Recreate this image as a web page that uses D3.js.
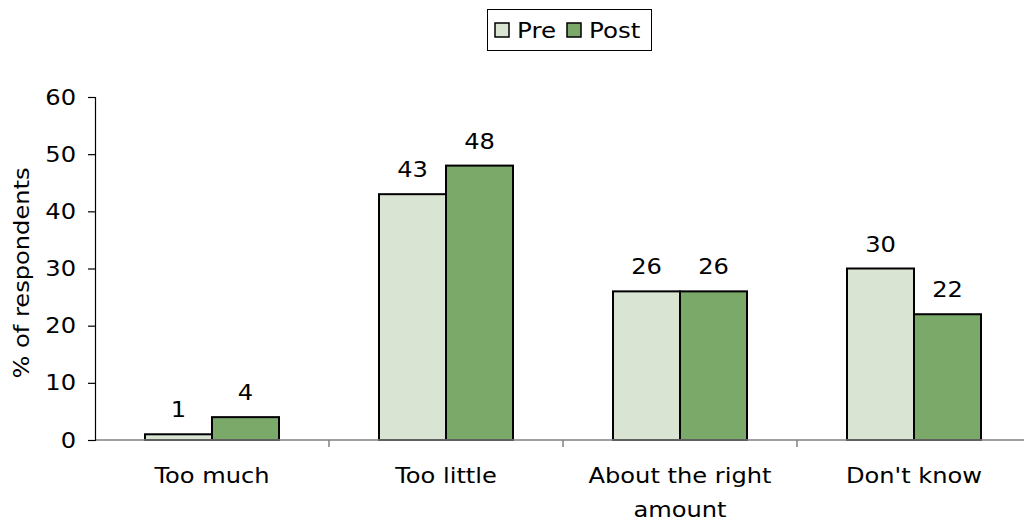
<!DOCTYPE html>
<html><head><meta charset="utf-8">
<script src="https://cdn.jsdelivr.net/npm/d3@7"></script>
<style>body{margin:0;background:#fff}svg{display:block}</style>
</head><body>
<script>
const categories = [["Too much"], ["Too little"], ["About the right", "amount"], ["Don't know"]];
const seriesNames = ["Pre", "Post"];
const preValues = [1, 43, 26, 30];
const postValues = [4, 48, 26, 22];
const yTicks = [0, 10, 20, 30, 40, 50, 60];
const colors = ["#d9e4d3", "#7aa96a"];

const W = 1024, H = 521;
const font = "DejaVu Sans, Verdana, sans-serif";
const SX = 1.15;
const svg = d3.select("body").append("svg").attr("width", W).attr("height", H);

function txt(parent, x, y, s, opts = {}) {
  const g = parent.append("g").attr("transform", `translate(${x},${y})${opts.rot ? " rotate(" + opts.rot + ")" : ""} scale(${opts.sx || SX},1)`);
  return g.append("text").attr("x", 0).attr("y", 0)
    .attr("text-anchor", opts.anchor || "middle")
    .attr("font-family", font).attr("font-size", opts.size || 21).attr("fill", "#000")
    .text(s);
}

const x = d3.scaleBand().domain(d3.range(categories.length)).range([95, 1031]).paddingInner(0).paddingOuter(0);
const inner = d3.scaleBand().domain([0, 1]).range([0, 134]);
const y = d3.scaleLinear().domain([0, 60]).range([440, 97]);

const series = [preValues, postValues];
const data = [];
series.forEach((vals, s) => vals.forEach((v, i) => data.push({s, i, v})));

// bars
svg.selectAll("rect.bar").data(data).enter().append("rect")
  .attr("x", d => x(d.i) + 50 + inner(d.s))
  .attr("y", d => y(d.v))
  .attr("width", inner.bandwidth())
  .attr("height", d => y(0) - y(d.v))
  .attr("fill", d => colors[d.s])
  .attr("stroke", "#000").attr("stroke-width", 2);

// value labels
data.forEach(d => txt(svg, x(d.i) + 50 + inner(d.s) + inner.bandwidth() / 2, y(d.v) - 17, d.v));

// x axis
svg.append("line").attr("x1", 95).attr("x2", W).attr("y1", 440).attr("y2", 440)
  .attr("stroke", "#808080").attr("stroke-width", 1.5);
d3.range(1, categories.length).forEach(i => {
  svg.append("line").attr("x1", x(i)).attr("x2", x(i)).attr("y1", 440).attr("y2", 447)
    .attr("stroke", "#808080").attr("stroke-width", 1.5);
});
categories.forEach((lines, i) => {
  lines.forEach((ln, k) => txt(svg, x(i) + x.bandwidth() / 2, 483 + k * 34, ln));
});

// y axis
const yAxis = d3.axisLeft(y).tickValues(yTicks).tickSize(7).tickFormat("");
const gy = svg.append("g").attr("transform", "translate(95,0)").call(yAxis);
gy.select(".domain").attr("stroke", "#000").attr("stroke-width", 1.2);
gy.selectAll(".tick line").attr("stroke", "#000").attr("stroke-width", 1.2);
yTicks.forEach(t => txt(svg, 76, y(t) + 7.5, t, {anchor: "end"}));

txt(svg, 29, 273, "% of respondents", {rot: -90});

// legend
svg.append("rect").attr("x", 487.5).attr("y", 9.5).attr("width", 164).attr("height", 41)
  .attr("fill", "#fff").attr("stroke", "#000").attr("stroke-width", 1);
const legX = [495, 567];
seriesNames.forEach((n, s) => {
  svg.append("rect").attr("x", legX[s]).attr("y", 23).attr("width", 14).attr("height", 14)
    .attr("fill", colors[s]).attr("stroke", "#000").attr("stroke-width", 1.5);
  txt(svg, legX[s] + 22, 37.5, n, {anchor: "start", size: 21, sx: 1.17});
});
</script>
</body></html>
